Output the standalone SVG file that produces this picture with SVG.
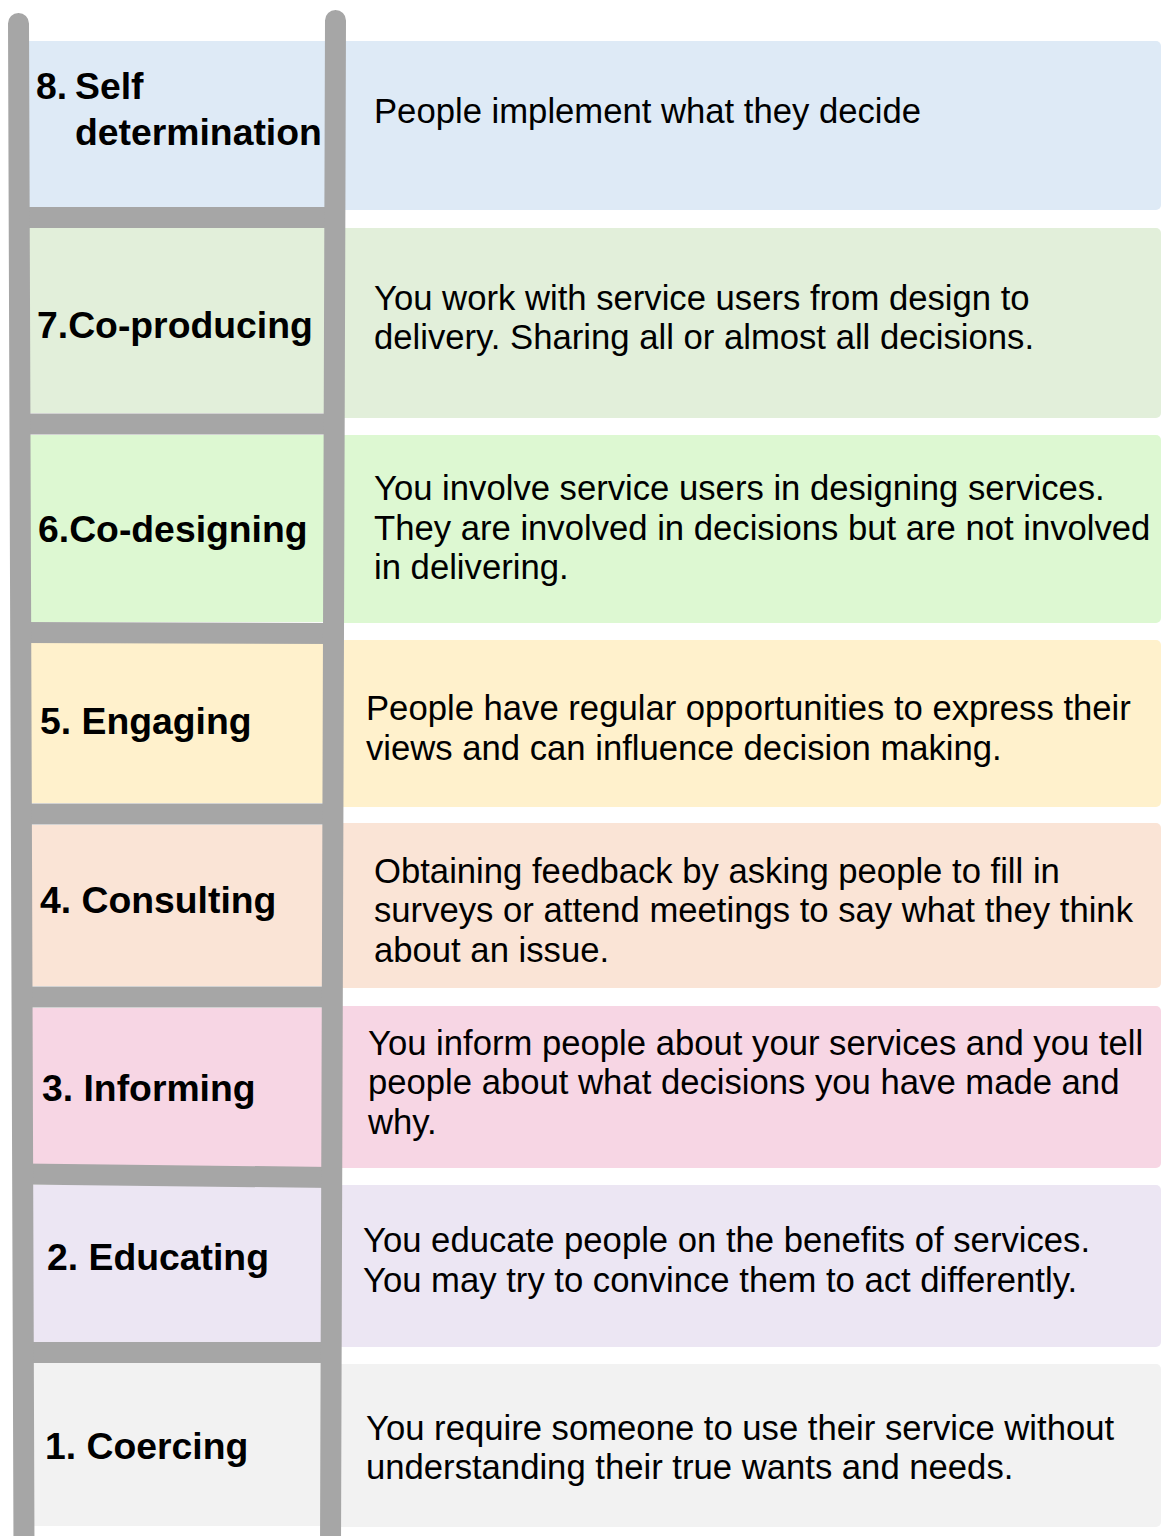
<svg xmlns="http://www.w3.org/2000/svg" width="1161" height="1536" viewBox="0 0 1161 1536">
<style>
.lbl{font-family:"Liberation Sans",Arial,sans-serif;font-weight:bold;font-size:37.33px;fill:#000}
.dsc{font-family:"Liberation Sans",Arial,sans-serif;font-size:34.67px;fill:#000}
.rail{stroke:#a6a6a6;stroke-width:21;fill:none}
</style>
<rect width="1161" height="1536" fill="#fff"/>
<g id="step8">
<rect x="20" y="41" width="320" height="166" fill="#deeaf6"/>
<rect x="330" y="41" width="831" height="169" rx="5" fill="#deeaf6"/>
<text class="lbl" x="36" y="99">8.</text>
<text class="lbl" x="75" y="99">Self</text>
<text class="lbl" x="75" y="145">determination</text>
<text class="dsc" x="374" y="123">People implement what they decide</text>
</g>
<g id="step7">
<rect x="20" y="228" width="320" height="185" fill="#e2efda"/>
<rect x="330" y="228" width="831" height="190" rx="5" fill="#e2efda"/>
<text class="lbl" x="37" y="338">7.Co-producing</text>
<text class="dsc" x="374" y="310">You work with service users from design to</text>
<text class="dsc" x="374" y="349">delivery. Sharing all or almost all decisions.</text>
</g>
<g id="step6">
<rect x="20" y="435" width="320" height="187" fill="#ddf8d2"/>
<rect x="330" y="435" width="831" height="188" rx="5" fill="#ddf8d2"/>
<text class="lbl" x="38" y="542">6.Co-designing</text>
<text class="dsc" x="374" y="500">You involve service users in designing services.</text>
<text class="dsc" x="374" y="539.5">They are involved in decisions but are not involved</text>
<text class="dsc" x="374" y="579">in delivering.</text>
</g>
<g id="step5">
<rect x="20" y="643" width="320" height="160" fill="#fff1cc"/>
<rect x="330" y="640" width="831" height="167" rx="5" fill="#fff1cc"/>
<text class="lbl" x="40" y="734">5. Engaging</text>
<text class="dsc" x="366" y="720">People have regular opportunities to express their</text>
<text class="dsc" x="366" y="760">views and can influence decision making.</text>
</g>
<g id="step4">
<rect x="20" y="825" width="320" height="161" fill="#fae4d6"/>
<rect x="330" y="823" width="831" height="165" rx="5" fill="#fae4d6"/>
<text class="lbl" x="40" y="913">4. Consulting</text>
<text class="dsc" x="374" y="883">Obtaining feedback by asking people to fill in</text>
<text class="dsc" x="374" y="922">surveys or attend meetings to say what they think</text>
<text class="dsc" x="374" y="962">about an issue.</text>
</g>
<g id="step3">
<rect x="20" y="1008" width="320" height="160" fill="#f7d6e4"/>
<rect x="330" y="1006" width="831" height="162" rx="5" fill="#f7d6e4"/>
<text class="lbl" x="42" y="1101">3. Informing</text>
<text class="dsc" x="368" y="1055">You inform people about your services and you tell</text>
<text class="dsc" x="368" y="1094">people about what decisions you have made and</text>
<text class="dsc" x="368" y="1134">why.</text>
</g>
<g id="step2">
<rect x="20" y="1185" width="320" height="157" fill="#ece6f3"/>
<rect x="330" y="1185" width="831" height="162" rx="5" fill="#ece6f3"/>
<text class="lbl" x="47" y="1270">2. Educating</text>
<text class="dsc" x="363" y="1252">You educate people on the benefits of services.</text>
<text class="dsc" x="363" y="1292">You may try to convince them to act differently.</text>
</g>
<g id="step1">
<rect x="20" y="1363" width="320" height="163" fill="#f2f2f2"/>
<rect x="330" y="1364" width="831" height="163" rx="5" fill="#f2f2f2"/>
<text class="lbl" x="45" y="1459">1. Coercing</text>
<text class="dsc" x="366" y="1440">You require someone to use their service without</text>
<text class="dsc" x="366" y="1479">understanding their true wants and needs.</text>
</g>
<g id="ladder">
<line class="rail" x1="19" y1="217.5" x2="335" y2="217.5"/>
<line class="rail" x1="20" y1="424" x2="334" y2="424"/>
<line class="rail" x1="20.5" y1="632.5" x2="334" y2="633.5"/>
<line class="rail" x1="21.5" y1="814" x2="333" y2="814"/>
<line class="rail" x1="22" y1="997" x2="332" y2="997"/>
<line class="rail" x1="22.5" y1="1174" x2="332" y2="1177.5"/>
<line class="rail" x1="23" y1="1352.5" x2="331" y2="1352.5"/>
<line class="rail" x1="18.5" y1="23.5" x2="24" y2="1550" stroke-linecap="round"/>
<line class="rail" x1="335.5" y1="20.5" x2="330.5" y2="1550" stroke-linecap="round"/>
</g>
</svg>
